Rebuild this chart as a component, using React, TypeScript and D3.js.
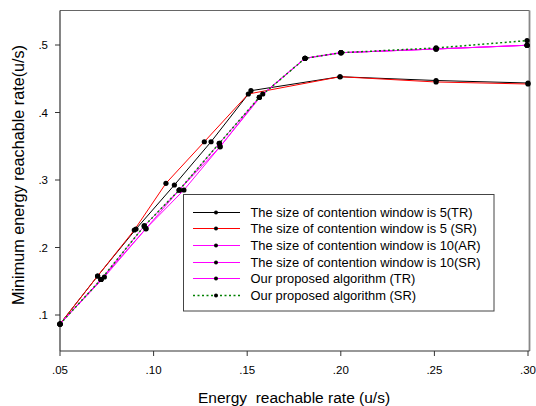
import React, { useEffect, useRef } from 'react';
import * as d3 from 'd3';

// axis ticks
const xTicks = [0.05, 0.10, 0.15, 0.20, 0.25, 0.30];
const xTickLabels = ['.05', '.10', '.15', '.20', '.25', '.30'];
const yTicks = [0.1, 0.2, 0.3, 0.4, 0.5];
const yTickLabels = ['.1', '.2', '.3', '.4', '.5'];

// series values [energy reachable rate, minimum energy reachable rate]
const cw5TR: [number, number][] = [
  [0.05, 0.0867], [0.0701, 0.1578], [0.0906, 0.2274], [0.1111, 0.2926], [0.1307, 0.3567],
  [0.1520, 0.4323], [0.1996, 0.4530], [0.2509, 0.4474], [0.30, 0.4437],
];
const cw5SR: [number, number][] = [
  [0.05, 0.0867], [0.0701, 0.1578], [0.0897, 0.2259], [0.1066, 0.2951], [0.1271, 0.3567],
  [0.1506, 0.4274], [0.1996, 0.4530], [0.2509, 0.4452], [0.30, 0.4422],
];
const cw10AR: [number, number][] = [
  [0.05, 0.0867], [0.0719, 0.1526], [0.0950, 0.2319], [0.1137, 0.2852], [0.1351, 0.3544],
  [0.1565, 0.4225], [0.1809, 0.4803], [0.2001, 0.4886], [0.2509, 0.4941], [0.2995, 0.4996],
];
const cw10SR: [number, number][] = [
  [0.05, 0.0867], [0.0737, 0.1563], [0.0959, 0.2279], [0.1162, 0.2852], [0.1355, 0.3493],
  [0.1583, 0.4274], [0.1809, 0.4803], [0.2001, 0.4886], [0.2509, 0.4941], [0.2995, 0.4996],
];
const proposedTR: [number, number][] = [
  [0.05, 0.0867], [0.0719, 0.1526], [0.0959, 0.2279], [0.1137, 0.2852], [0.1355, 0.3493],
  [0.1565, 0.4225], [0.1809, 0.4803], [0.2001, 0.4886], [0.2509, 0.4941], [0.2995, 0.4996],
];
const proposedSR: [number, number][] = [
  [0.05, 0.0867], [0.0719, 0.1526], [0.0950, 0.2319], [0.1137, 0.2852], [0.1351, 0.3544],
  [0.1565, 0.4225], [0.1809, 0.4803], [0.2001, 0.4886], [0.2509, 0.4956], [0.2995, 0.5065],
];

const seriesNames = [
  'The size of contention window is 5(TR)',
  'The size of contention window is 5 (SR)',
  'The size of contention window is 10(AR)',
  'The size of contention window is 10(SR)',
  'Our proposed algorithm (TR)',
  'Our proposed algorithm (SR)',
];
const seriesData = [cw5TR, cw5SR, cw10AR, cw10SR, proposedTR, proposedSR];
const seriesColors = ['#000000', '#ff0000', '#ff00ff', '#ff00ff', '#ff00ff', '#008000'];
const seriesDash = [null, null, null, null, null, '2,2.5'];

const FONT = '"Liberation Sans", Arial, sans-serif';

const App = () => {
  const svgRef = useRef<SVGSVGElement | null>(null);

  useEffect(() => {
    if (!svgRef.current) return;
    const svg = d3.select(svgRef.current);
    svg.selectAll('*').remove();

    const left = 60, right = 528, frameRight = 529.5, frameTop = 10.5, frameBottom = 351;

    const x = d3.scaleLinear().domain([0.05, 0.30]).range([left, right]);
    const y = d3.scaleLinear().domain([0.1, 0.5]).range([315, 45]);

    // frame
    svg.append('line').attr('x1', left).attr('x2', frameRight).attr('y1', frameTop).attr('y2', frameTop)
      .attr('stroke', '#666').attr('stroke-width', 1.2);
    svg.append('line').attr('x1', frameRight).attr('x2', frameRight).attr('y1', frameTop).attr('y2', frameBottom)
      .attr('stroke', '#888').attr('stroke-width', 1.8);
    svg.append('line').attr('x1', left).attr('x2', left).attr('y1', frameTop).attr('y2', frameBottom)
      .attr('stroke', '#333').attr('stroke-width', 1.2);
    svg.append('line').attr('x1', left).attr('x2', frameRight).attr('y1', frameBottom).attr('y2', frameBottom)
      .attr('stroke', '#333').attr('stroke-width', 1.2);

    // y ticks
    const yt = svg.append('g');
    yTicks.forEach((t, i) => {
      yt.append('line').attr('x1', left - 5).attr('x2', left).attr('y1', y(t)).attr('y2', y(t))
        .attr('stroke', '#333');
      yt.append('text').attr('x', left - 12).attr('y', y(t)).attr('dy', '0.35em')
        .attr('text-anchor', 'end').attr('font-family', FONT).attr('font-size', 11.5)
        .text(yTickLabels[i]);
    });

    // x ticks
    const xt = svg.append('g');
    xTicks.forEach((t, i) => {
      xt.append('line').attr('x1', x(t)).attr('x2', x(t)).attr('y1', frameBottom).attr('y2', frameBottom + 5)
        .attr('stroke', '#333');
      xt.append('text').attr('x', x(t)).attr('y', 374)
        .attr('text-anchor', 'middle').attr('font-family', FONT).attr('font-size', 11.5)
        .text(xTickLabels[i]);
    });

    // axis titles
    svg.append('text').attr('x', 294).attr('y', 403).attr('text-anchor', 'middle')
      .attr('font-family', FONT).attr('font-size', 15.5).text('Energy  reachable rate (u/s)')
      .attr('xml:space', 'preserve').style('white-space', 'pre');
    svg.append('text').attr('transform', 'translate(24,175) rotate(-90)').attr('text-anchor', 'middle')
      .attr('font-family', FONT).attr('font-size', 16.2).text('Minimum energy reachable rate(u/s)');

    // lines
    const line = d3.line<[number, number]>().x(d => x(d[0])).y(d => y(d[1]));
    seriesData.forEach((data, i) => {
      const p = svg.append('path').datum(data).attr('fill', 'none')
        .attr('stroke', seriesColors[i]).attr('stroke-width', i === 5 ? 1.5 : 1).attr('d', line);
      if (seriesDash[i]) p.attr('stroke-dasharray', seriesDash[i] as string);
    });
    // markers
    seriesData.forEach(data => {
      svg.append('g').selectAll('circle').data(data).enter().append('circle')
        .attr('cx', d => x(d[0])).attr('cy', d => y(d[1])).attr('r', 2.6).attr('fill', '#000');
    });

    // legend
    const lg = svg.append('g');
    lg.append('rect').attr('x', 183.5).attr('y', 194.5).attr('width', 310.5).attr('height', 116.5)
      .attr('fill', '#fff').attr('stroke', '#444').attr('stroke-width', 1);
    seriesNames.forEach((name, i) => {
      const cy = Math.round(211.7 + i * 16.6) + 0.5;
      const l = lg.append('line').attr('x1', 193).attr('x2', 240).attr('y1', cy).attr('y2', cy)
        .attr('stroke', seriesColors[i]).attr('stroke-width', i === 5 ? 1.5 : 1.2);
      if (seriesDash[i]) l.attr('stroke-dasharray', seriesDash[i] as string);
      lg.append('circle').attr('cx', 216).attr('cy', cy).attr('r', 2).attr('fill', '#000');
      lg.append('text').attr('x', 250.5).attr('y', cy).attr('dy', '0.36em')
        .attr('font-family', FONT).attr('font-size', 12.9).text(name);
    });
  }, []);

  return (
    <svg ref={svgRef} width={536} height={406}
      style={{ position: 'absolute', left: 0, top: 0, background: '#fff' }} />
  );
};

export default App;
